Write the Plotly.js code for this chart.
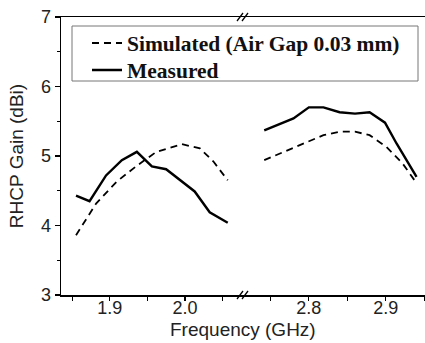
<!DOCTYPE html>
<html><head><meta charset="utf-8">
<script src="https://cdn.plot.ly/plotly-3.0.1.min.js"></script>
<style>html,body{margin:0;padding:0;background:#fff}#c{width:425px;height:343px}</style>
</head><body><div id="c"></div>
<script>
// Band 1 (around 1.9-2.06 GHz)
var simFreq1 = [1.855, 1.882, 1.909, 1.936, 1.962, 1.996, 2.020, 2.038, 2.057];
var simGain1 = [3.86, 4.32, 4.63, 4.86, 5.06, 5.17, 5.11, 4.92, 4.65];
var measFreq1 = [1.855, 1.873, 1.895, 1.916, 1.936, 1.956, 1.975, 1.991, 2.013, 2.033, 2.057];
var measGain1 = [4.43, 4.35, 4.72, 4.94, 5.06, 4.85, 4.81, 4.68, 4.49, 4.19, 4.04];
// Band 2 (around 2.75-2.94 GHz)
var simFreq2 = [2.742, 2.767, 2.793, 2.819, 2.840, 2.860, 2.879, 2.901, 2.922, 2.940];
var simGain2 = [4.94, 5.06, 5.18, 5.30, 5.35, 5.35, 5.30, 5.13, 4.89, 4.61];
var measFreq2 = [2.742, 2.780, 2.800, 2.819, 2.840, 2.860, 2.879, 2.899, 2.914, 2.940];
var measGain2 = [5.37, 5.54, 5.70, 5.70, 5.63, 5.61, 5.63, 5.48, 5.18, 4.70];
var simName = 'Simulated (Air Gap 0.03 mm)';
var measName = 'Measured';

var simLine = {color:'#000', width:1.8, dash:'7px,5px'};
var measLine = {color:'#000', width:2.4};
var traces = [
  {x:simFreq1, y:simGain1, type:'scatter', mode:'lines', name:simName, line:simLine, xaxis:'x', yaxis:'y', legendgroup:'s', legend:'legend'},
  {x:measFreq1, y:measGain1, type:'scatter', mode:'lines', name:measName, line:measLine, xaxis:'x', yaxis:'y', legendgroup:'m', legend:'legend2'},
  {x:simFreq2, y:simGain2, type:'scatter', mode:'lines', name:simName, line:simLine, xaxis:'x2', yaxis:'y', legendgroup:'s', showlegend:false},
  {x:measFreq2, y:measGain2, type:'scatter', mode:'lines', name:measName, line:measLine, xaxis:'x2', yaxis:'y', legendgroup:'m', showlegend:false},
  // invisible carriers for the tick-label axes
  {x:simFreq1, y:simGain1, type:'scatter', mode:'none', xaxis:'x3', yaxis:'y', showlegend:false, hoverinfo:'skip'},
  {x:simFreq2, y:simGain2, type:'scatter', mode:'none', xaxis:'x4', yaxis:'y', showlegend:false, hoverinfo:'skip'}
];
var tickFont = {family:'Liberation Sans, Arial', size:18, color:'#222'};
var split = 0.5055;
var r1 = [1.835, 2.08], r2 = [2.717, 2.951];
function brk(yv){
  return [
    {type:'line', xref:'paper', yref:'paper', xsizemode:'pixel', ysizemode:'pixel', xanchor:split, yanchor:yv, x0:-8, x1:-2, y0:-4, y1:4, line:{color:'#000', width:1.3}},
    {type:'line', xref:'paper', yref:'paper', xsizemode:'pixel', ysizemode:'pixel', xanchor:split, yanchor:yv, x0:-3, x1:3, y0:-4, y1:4, line:{color:'#000', width:1.3}}
  ];
}
function tickAxis(dom, rng, t0, mt0){
  return {domain:dom, range:rng, tick0:t0, dtick:0.1, showticklabels:false,
         ticks:'outside', ticklen:4, tickwidth:1.2, tickcolor:'#000',
         minor:{dtick:0.05, tick0:mt0, ticks:'outside', ticklen:4, tickwidth:1.2, tickcolor:'#000'},
         showline:true, linecolor:'#000', linewidth:1.5, mirror:true, showgrid:false, zeroline:false, anchor:'y'};
}
function labelAxis(dom, rng, t0, ov){
  return {domain:dom, range:rng, tick0:t0, dtick:0.1, tickformat:'.1f', ticks:'', showline:false,
          showgrid:false, zeroline:false, tickfont:tickFont, anchor:'free', position:0, overlaying:ov};
}
var layout = {
  width:425, height:343,
  margin:{l:61, r:0, t:17, b:48},
  paper_bgcolor:'#fff', plot_bgcolor:'#fff',
  showlegend:true,
  legend:{x:(87-61)/364, y:1-(43-17)/278, xanchor:'left', yanchor:'middle', borderwidth:0, bgcolor:'rgba(255,255,255,0)',
          font:{family:'Liberation Serif, Times New Roman', size:21.5, color:'#111', weight:'bold'}},
  legend2:{x:(87-61)/364, y:1-(70-17)/278, xanchor:'left', yanchor:'middle', borderwidth:0, bgcolor:'rgba(255,255,255,0)',
          font:{family:'Liberation Serif, Times New Roman', size:21.5, color:'#111', weight:'bold'}},
  xaxis: tickAxis([0, split], r1, 1.9, 1.85),
  xaxis2: tickAxis([split, 1], r2, 2.8, 2.75),
  xaxis3: labelAxis([0, split], r1, 1.9, 'x'),
  xaxis4: labelAxis([split, 1], r2, 2.8, 'x2'),
  yaxis:{range:[3,7], dtick:1, ticks:'outside', ticklen:5, tickwidth:1.2, tickcolor:'#000',
         minor:{dtick:0.5, ticks:'outside', ticklen:3, tickwidth:1.2, tickcolor:'#000'},
         showline:true, linecolor:'#000', linewidth:1.5, showgrid:false, zeroline:false,
         tickfont:tickFont,
         title:{text:'RHCP Gain (dBi)', font:{family:'Liberation Sans, Arial', size:19, color:'#222'}, standoff:12}},
  annotations:[
    {text:'Frequency (GHz)', xref:'paper', yref:'paper', x:0.5, y:0, yshift:-22, xanchor:'center', yanchor:'top', showarrow:false,
     font:{family:'Liberation Sans, Arial', size:19, color:'#222'}}
  ],
  shapes: brk(1).concat(brk(0)).concat([
    {type:'rect', xref:'paper', yref:'paper', x0:(72-61)/364, x1:(418-61)/364, y0:1-(81-17)/278, y1:1-(26-17)/278,
     line:{color:'#777', width:1}, fillcolor:'rgba(0,0,0,0)', layer:'above'}
  ])
};
Plotly.newPlot('c', traces, layout, {displayModeBar:false, staticPlot:true});
</script></body></html>
